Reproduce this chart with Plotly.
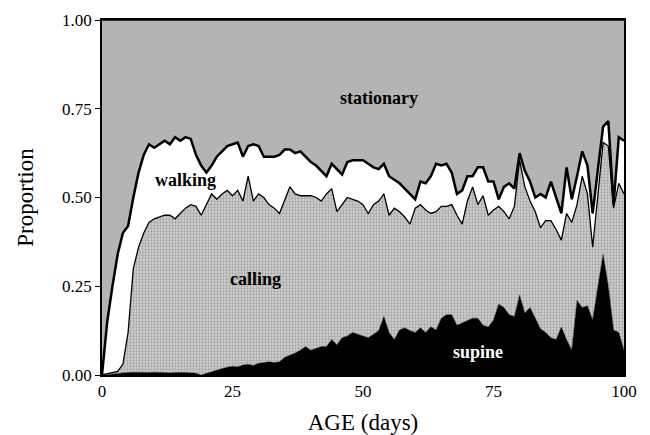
import plotly.graph_objects as go

days = list(range(0, 101))

# cumulative upper boundary of each band (proportion)
supine_top = [0, 0, 0.003, 0.005, 0.007, 0.007, 0.008, 0.007, 0.006, 0.007,
              0.008, 0.007, 0.006, 0.006, 0.007, 0.008, 0.007, 0.006, 0.005, 0.0,
              0.005, 0.01, 0.015, 0.018, 0.022, 0.025, 0.023, 0.028, 0.03, 0.027,
              0.033, 0.035, 0.037, 0.035, 0.037, 0.05, 0.055, 0.062, 0.07, 0.08,
              0.07, 0.075, 0.08, 0.08, 0.10, 0.085, 0.105, 0.11, 0.12, 0.115,
              0.11, 0.105, 0.115, 0.125, 0.165, 0.12, 0.10, 0.127, 0.133, 0.125,
              0.12, 0.133, 0.12, 0.136, 0.127, 0.16, 0.17, 0.17, 0.14, 0.147,
              0.155, 0.16, 0.16, 0.14, 0.135, 0.155, 0.20, 0.19, 0.17, 0.165,
              0.225, 0.175, 0.19, 0.16, 0.13, 0.12, 0.105, 0.10, 0.135, 0.10,
              0.07, 0.21, 0.19, 0.195, 0.155, 0.25, 0.34, 0.25, 0.127, 0.12,
              0.07]

calling_top = [0.0, 0.003, 0.005, 0.01, 0.03, 0.12, 0.30, 0.36, 0.40, 0.43,
               0.44, 0.445, 0.45, 0.45, 0.44, 0.455, 0.47, 0.48, 0.475, 0.45,
               0.48, 0.51, 0.495, 0.51, 0.52, 0.505, 0.52, 0.49, 0.56, 0.49,
               0.51, 0.50, 0.48, 0.47, 0.455, 0.49, 0.53, 0.51, 0.505, 0.505,
               0.505, 0.50, 0.49, 0.51, 0.525, 0.46, 0.48, 0.50, 0.495, 0.49,
               0.48, 0.455, 0.48, 0.49, 0.51, 0.45, 0.47, 0.46, 0.445, 0.425,
               0.47, 0.48, 0.465, 0.455, 0.46, 0.475, 0.475, 0.48, 0.45, 0.425,
               0.49, 0.53, 0.48, 0.505, 0.45, 0.465, 0.475, 0.46, 0.44, 0.475,
               0.605, 0.53, 0.49, 0.46, 0.415, 0.435, 0.435, 0.41, 0.38, 0.455,
               0.43, 0.48, 0.56, 0.51, 0.36, 0.50, 0.655, 0.645, 0.47, 0.54,
               0.51]

walking_top = [0.0, 0.15, 0.25, 0.34, 0.40, 0.42, 0.50, 0.57, 0.62, 0.65,
               0.64, 0.65, 0.66, 0.65, 0.67, 0.66, 0.67, 0.665, 0.62, 0.59,
               0.57, 0.59, 0.615, 0.63, 0.645, 0.65, 0.655, 0.615, 0.645, 0.65,
               0.645, 0.615, 0.615, 0.615, 0.62, 0.635, 0.635, 0.625, 0.63, 0.615,
               0.60, 0.59, 0.575, 0.56, 0.595, 0.58, 0.565, 0.60, 0.605, 0.605,
               0.605, 0.595, 0.585, 0.58, 0.595, 0.56, 0.55, 0.54, 0.525, 0.51,
               0.495, 0.545, 0.54, 0.56, 0.595, 0.59, 0.595, 0.57, 0.51, 0.52,
               0.56, 0.56, 0.585, 0.585, 0.545, 0.545, 0.495, 0.53, 0.54, 0.525,
               0.625, 0.575, 0.545, 0.50, 0.51, 0.50, 0.545, 0.50, 0.455, 0.585,
               0.495, 0.56, 0.63, 0.59, 0.455, 0.58, 0.70, 0.715, 0.48, 0.67,
               0.66]

stationary_top = [1.0] * len(days)

x_ticks = [0, 25, 50, 75, 100]
y_ticks = [0, 0.25, 0.5, 0.75, 1.0]
labels = ["stationary", "walking", "calling", "supine"]

font = "Liberation Serif, Times New Roman, serif"

fig = go.Figure()
fig.add_trace(go.Scatter(x=days, y=supine_top, mode="lines", fill="tozeroy",
                         fillcolor="black", line=dict(color="black", width=0.5),
                         showlegend=False))
fig.add_trace(go.Scatter(x=days, y=calling_top, mode="lines", fill="tonexty",
                         fillcolor="#c4c4c4",
                         fillpattern=dict(shape=".", fgcolor="#7a7a7a", bgcolor="#d0d0d0",
                                          size=3, solidity=0.45),
                         line=dict(color="black", width=1.3), showlegend=False))
fig.add_trace(go.Scatter(x=days, y=walking_top, mode="lines", fill="tonexty",
                         fillcolor="white", line=dict(color="black", width=2.5),
                         showlegend=False))
fig.add_trace(go.Scatter(x=days, y=stationary_top, mode="lines", fill="tonexty",
                         fillcolor="#b4b4b4", line=dict(color="black", width=1.5),
                         showlegend=False))

ann = [
    (labels[0], 53, 0.78, "black"),
    (labels[1], 16, 0.55, "black"),
    (labels[2], 29.5, 0.27, "black"),
    (labels[3], 72, 0.065, "white"),
]
for t, ax_, ay_, c in ann:
    fig.add_annotation(x=ax_, y=ay_, text="<b>%s</b>" % t, showarrow=False,
                       font=dict(family=font, size=18, color=c))

fig.update_layout(
    width=650, height=435,
    margin=dict(l=102, r=26, t=20, b=60),
    paper_bgcolor="white", plot_bgcolor="white",
    font=dict(family=font, size=17, color="black"),
)
fig.update_xaxes(range=[0, 100], tickvals=x_ticks, ticktext=[str(v) for v in x_ticks],
                 showgrid=False, zeroline=False, showline=True, linecolor="black",
                 linewidth=1.5, mirror=True, ticks="", ticklen=0, automargin=False,
                 title=dict(text="AGE (days)", font=dict(family=font, size=23), standoff=14))
fig.update_yaxes(range=[0, 1.0], tickvals=y_ticks, ticktext=["%.2f" % v for v in y_ticks],
                 showgrid=False, zeroline=False, showline=True, linecolor="black",
                 linewidth=1.5, mirror=True, ticks="outside", ticklen=5, tickcolor="black",
                 automargin=False,
                 title=dict(text="Proportion", font=dict(family=font, size=23), standoff=22))

fig.write_html("out.html")
